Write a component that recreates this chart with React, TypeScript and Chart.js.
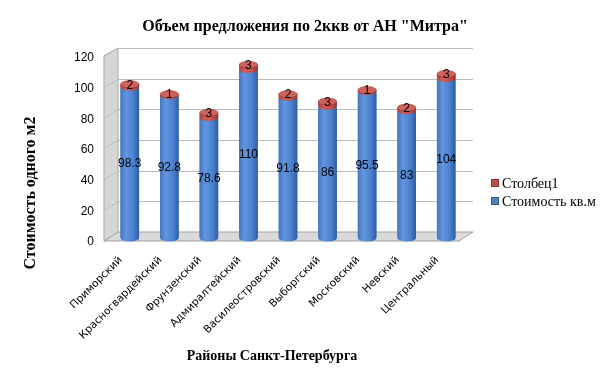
import React, { useEffect, useRef } from "react";
import { Chart, registerables } from "chart.js";

Chart.register(...registerables);

const districts = [
  "Приморский",
  "Красногвардейский",
  "Фрунзенский",
  "Адмиралтейский",
  "Василеостровский",
  "Выборгский",
  "Московский",
  "Невский",
  "Центральный",
];
const pricePerSqm = [98.3, 92.8, 78.6, 110, 91.8, 86, 95.5, 83, 104];
const column1 = [2, 1, 3, 3, 2, 3, 1, 2, 3];
const yTicks = [0, 20, 40, 60, 80, 100, 120];

const chartTitle = 'Объем предложения по 2ккв от АН "Митра"';
const xTitle = "Районы Санкт-Петербурга";
const yTitle = "Стоимость одного м2";
const seriesNames = ["Стоимость кв.м", "Столбец1"];

const BLUE = "#4F81BD";
const RED = "#C0504D";

const DEPTH_X = 7;

const framePlugin = {
  id: "frame3d",
  beforeDatasetsDraw(chart: any) {
    const { ctx, chartArea, scales } = chart;
    const y = scales.y;
    const fl = chartArea.left - DEPTH_X + 1;
    const fr = chartArea.right - DEPTH_X;
    const bl = chartArea.left + DEPTH_X + 1;
    const br = chartArea.right + DEPTH_X;
    const yf = (v: number) => y.getPixelForValue(v) + 3 - v * 0.01;
    const yb = (v: number) => y.getPixelForValue(v) - 6;
    ctx.save();
    ctx.fillStyle = "#d6d6d6";
    ctx.beginPath();
    ctx.moveTo(fl, yf(120));
    ctx.lineTo(bl, yb(120));
    ctx.lineTo(bl, yb(0));
    ctx.lineTo(fl, yf(0));
    ctx.closePath();
    ctx.fill();
    ctx.strokeStyle = "#a8a8a8";
    ctx.lineWidth = 1;
    ctx.stroke();
    ctx.fillStyle = "#dadada";
    ctx.beginPath();
    ctx.moveTo(fl, yf(0));
    ctx.lineTo(fr, yf(0));
    ctx.lineTo(br, yb(0));
    ctx.lineTo(bl, yb(0));
    ctx.closePath();
    ctx.fill();
    ctx.strokeStyle = "#a0a0a0";
    ctx.stroke();
    ctx.strokeStyle = "#bcbcbc";
    for (const v of yTicks) {
      if (v === 0) continue;
      ctx.beginPath();
      ctx.moveTo(fl, Math.round(yf(v)) + 0.5);
      ctx.lineTo(bl, Math.round(yb(v)) + 0.5);
      ctx.lineTo(br, Math.round(yb(v)) + 0.5);
      ctx.stroke();
    }
    ctx.restore();
  },
  afterDatasetsDraw(chart: any) {
    const { ctx } = chart;
    const m0 = chart.getDatasetMeta(0).data;
    const m1 = chart.getDatasetMeta(1).data;
    const cyl = (el: any, c: string[], capColor: string | null) => {
      const x = el.x;
      const top = el.y;
      const base = el.base;
      const rx = el.width / 2;
      const ry = 3.6;
      const g = ctx.createLinearGradient(x - rx, 0, x + rx, 0);
      g.addColorStop(0, c[0]);
      g.addColorStop(0.3, c[1]);
      g.addColorStop(0.7, c[2]);
      g.addColorStop(1, c[3]);
      ctx.fillStyle = g;
      ctx.beginPath();
      ctx.moveTo(x - rx, top);
      ctx.lineTo(x - rx, base);
      ctx.ellipse(x, base, rx, ry, 0, Math.PI, 0, true);
      ctx.lineTo(x + rx, top);
      ctx.ellipse(x, top, rx, ry, 0, 0, Math.PI, false);
      ctx.closePath();
      ctx.fill();
      if (capColor) {
        ctx.fillStyle = capColor;
        ctx.beginPath();
        ctx.ellipse(x, top, rx, ry, 0, 0, Math.PI * 2);
        ctx.fill();
        ctx.strokeStyle = "rgba(120,30,30,0.5)";
        ctx.lineWidth = 0.8;
        ctx.stroke();
      }
    };
    ctx.save();
    for (let i = 0; i < m0.length; i++) {
      cyl(m0[i], ["#4676bd", "#6196e0", "#4a80cf", "#2f5d9f"], null);
      cyl(m1[i], ["#b0403d", "#d25d58", "#c24d49", "#9a302d"], "#d0625d");
    }
    ctx.fillStyle = "#000";
    ctx.font = "12px 'Liberation Sans', Arial, sans-serif";
    ctx.textAlign = "center";
    ctx.textBaseline = "middle";
    for (let i = 0; i < m0.length; i++) {
      const b = m0[i];
      ctx.fillText(String(pricePerSqm[i]), b.x, (b.y + b.base) / 2 + 1);
      const r = m1[i];
      ctx.fillText(String(column1[i]), r.x, r.y + 1);
    }
    ctx.restore();
  },
  afterDraw(chart: any) {
    const { ctx } = chart;
    ctx.save();
    ctx.fillStyle = "#000";
    ctx.textAlign = "center";
    ctx.textBaseline = "middle";
    ctx.font = "bold 16px 'Liberation Serif', 'Times New Roman', serif";
    ctx.fillText(chartTitle, 305, 27);
    ctx.font = "bold 14px 'Liberation Serif', 'Times New Roman', serif";
    ctx.fillText(xTitle, 272, 356);
    ctx.save();
    ctx.translate(31, 193);
    ctx.rotate(-Math.PI / 2);
    ctx.font = "bold 16px 'Liberation Serif', 'Times New Roman', serif";
    ctx.fillText(yTitle, 0, 0);
    ctx.restore();
    ctx.font = "14px 'Liberation Serif', 'Times New Roman', serif";
    ctx.textAlign = "left";
    const items = [
      { label: seriesNames[1], color: RED, border: "#8c3836", y: 183 },
      { label: seriesNames[0], color: BLUE, border: "#385d8a", y: 201 },
    ];
    for (const it of items) {
      ctx.fillStyle = it.color;
      ctx.fillRect(491, it.y - 4, 8, 8);
      ctx.strokeStyle = it.border;
      ctx.lineWidth = 1;
      ctx.strokeRect(491.5, it.y - 3.5, 7, 7);
      ctx.fillStyle = "#000";
      ctx.fillText(it.label, 502, it.y + 1);
    }
    ctx.restore();
  },
};

export default function App() {
  const ref = useRef<HTMLCanvasElement | null>(null);
  useEffect(() => {
    document.body.style.margin = "0";
    if (!ref.current) return;
    const chart = new Chart(ref.current, {
      type: "bar",
      data: {
        labels: districts,
        datasets: [
          {
            label: seriesNames[0],
            data: pricePerSqm,
            backgroundColor: BLUE,
            barPercentage: 0.47,
            categoryPercentage: 1,
          },
          {
            label: seriesNames[1],
            data: column1,
            backgroundColor: RED,
            barPercentage: 0.47,
            categoryPercentage: 1,
          },
        ],
      },
      options: {
        responsive: false,
        animation: false,
        layout: { padding: { top: 54, right: 143, left: 0, bottom: 0 } },
        plugins: {
          legend: { display: false },
          title: { display: false },
          tooltip: { enabled: false },
        },
        scales: {
          x: {
            stacked: true,
            grid: { display: false, drawTicks: false },
            border: { display: false },
            ticks: {
              autoSkip: false,
              maxRotation: 45,
              minRotation: 45,
              padding: 16,
              labelOffset: -9,
              color: "#000",
              font: { family: "'DejaVu Sans', sans-serif", size: 10.6 },
            },
            afterFit: (s: any) => {
              s.height = 147;
            },
          },
          y: {
            stacked: true,
            min: 0,
            max: 120,
            grid: { display: false, drawTicks: false },
            border: { display: false },
            ticks: {
              stepSize: 20,
              padding: 16,
              labelOffset: 4,
              color: "#000",
              font: { family: "'Liberation Sans', Arial, sans-serif", size: 12 },
            },
            afterFit: (s: any) => {
              s.width = 110;
            },
          },
        },
      },
      plugins: [framePlugin],
    });
    return () => chart.destroy();
  }, []);
  return (
    <div style={{ position: "relative", width: 609, height: 385, background: "#fff" }}>
      <canvas ref={ref} width={609} height={385} />
    </div>
  );
}
